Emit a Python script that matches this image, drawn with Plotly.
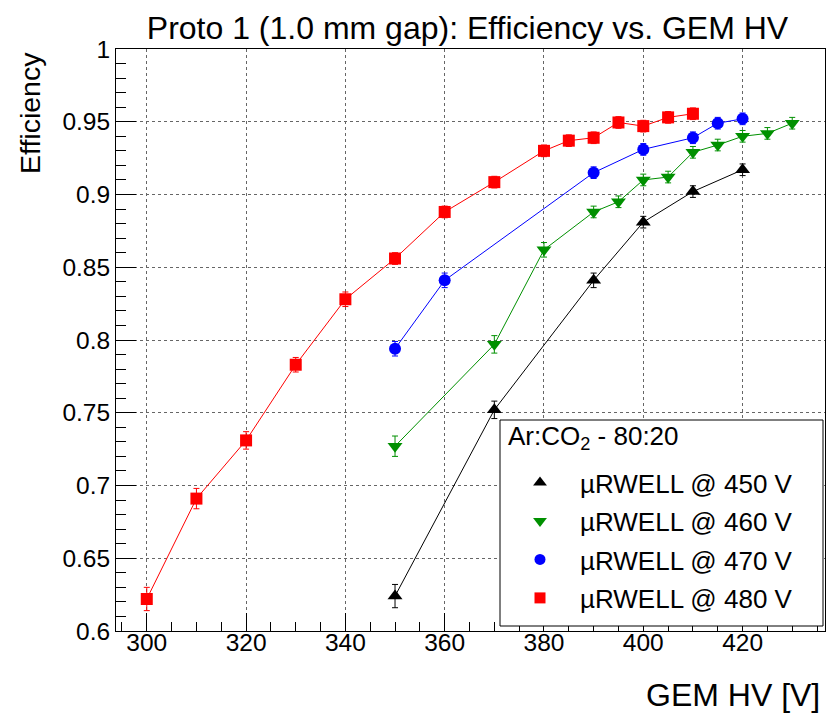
import plotly.graph_objects as go

# ---------------- data ----------------
x450 = [350, 370, 390, 400, 410, 420]
y450 = [0.624, 0.752, 0.841, 0.881, 0.902, 0.917]
e450 = [0.008, 0.006, 0.005, 0.004, 0.004, 0.004]

x460 = [350, 370, 380, 390, 395, 400, 405, 410, 415, 420, 425, 430]
y460 = [0.727, 0.797, 0.862, 0.888, 0.895, 0.910, 0.912, 0.929, 0.934, 0.940, 0.942, 0.949]
e460 = [0.007, 0.006, 0.005, 0.004, 0.004, 0.004, 0.004, 0.004, 0.004, 0.004, 0.004, 0.004]

x470 = [350, 360, 390, 400, 410, 415, 420]
y470 = [0.794, 0.841, 0.915, 0.931, 0.939, 0.949, 0.952]
e470 = [0.005, 0.005, 0.004, 0.004, 0.004, 0.004, 0.004]

x480 = [300, 310, 320, 330, 340, 350, 360, 370, 380, 385, 390, 395, 400, 405, 410]
y480 = [0.622, 0.691, 0.731, 0.783, 0.828, 0.856, 0.888, 0.9085, 0.930, 0.937, 0.939, 0.9495, 0.947, 0.953, 0.9555]
e480 = [0.008, 0.007, 0.006, 0.005, 0.005, 0.004, 0.004, 0.004, 0.004, 0.004, 0.004, 0.004, 0.004, 0.004, 0.004]

series_names = ["\u00b5RWELL @ 450 V", "\u00b5RWELL @ 460 V", "\u00b5RWELL @ 470 V", "\u00b5RWELL @ 480 V"]

x_tickvals = [300, 320, 340, 360, 380, 400, 420]
x_ticktext = ["300", "320", "340", "360", "380", "400", "420"]
y_tickvals = [0.6, 0.65, 0.7, 0.75, 0.8, 0.85, 0.9, 0.95, 1.0]
y_ticktext = ["0.6", "0.65", "0.7", "0.75", "0.8", "0.85", "0.9", "0.95", "1"]

title_text = "Proto 1 (1.0 mm gap): Efficiency vs. GEM HV"
xtitle_text = "GEM HV [V]"
ytitle_text = "Efficiency"
legend_header = "Ar:CO<sub>2</sub> - 80:20"

# ---------------- styles ----------------
FONT = "Liberation Sans, Arial, Helvetica, sans-serif"
styles = [
    dict(color="#000000", symbol="triangle-up", size=13),
    dict(color="#009000", symbol="triangle-down", size=13),
    dict(color="#0000ff", symbol="circle", size=12),
    dict(color="#ff0000", symbol="square", size=12),
]
datasets = [(x450, y450, e450), (x460, y460, e460), (x470, y470, e470), (x480, y480, e480)]

fig = go.Figure()
for (xs, ys, es), st in zip(datasets, styles):
    fig.add_trace(go.Scatter(
        x=xs, y=ys, mode="lines+markers", showlegend=False,
        line=dict(color=st["color"], width=1),
        marker=dict(color=st["color"], symbol=st["symbol"], size=st["size"], line=dict(width=0)),
        error_y=dict(type="data", array=es, color=st["color"], thickness=1, width=3),
        cliponaxis=False,
    ))

for i, (name, st) in enumerate(zip(series_names, styles)):
    fig.add_trace(go.Scatter(
        x=[None], y=[None], mode="markers", name=name, legendgroup="g%d" % i,
        marker=dict(color=st["color"], symbol=st["symbol"], size=st["size"] - 1, line=dict(width=0)),
    ))

L, R, T, B = 116, 5, 49, 85
W, H = 830, 716
pw, ph = W - L - R, H - T - B

def px_x(p):
    return (p - L) / pw

def px_y(p):
    return (H - B - p) / ph

axis_common = dict(
    showline=True, linecolor="black", linewidth=1, mirror=True,
    ticks="inside", tickcolor="black", tickwidth=1,
    showgrid=True, gridcolor="#666666", griddash="dot", gridwidth=1,
    zeroline=False, tickfont=dict(family=FONT, size=24.5, color="black"),
)

fig.update_layout(
    width=W, height=H,
    margin=dict(l=L, r=R, t=T, b=B),
    paper_bgcolor="white", plot_bgcolor="white",
    font=dict(family=FONT, color="black"),
    xaxis=dict(range=[293.8, 436.6], tickmode="array", tickvals=x_tickvals, ticktext=x_ticktext,
               ticklen=18, ticklabelstandoff=-10,
               minor=dict(tick0=300, dtick=5, ticks="inside", ticklen=9, tickcolor="black", showgrid=False),
               **axis_common),
    yaxis=dict(range=[0.6, 1.0], tickmode="array", tickvals=y_tickvals, ticktext=y_ticktext,
               ticklen=20,
               minor=dict(tick0=0.6, dtick=0.01, ticks="inside", ticklen=10, tickcolor="black", showgrid=False),
               **axis_common),
    title=dict(text=title_text, font=dict(family=FONT, size=32, color="black"),
               xref="container", x=467.5 / W, xanchor="center",
               yref="container", y=1 - 27.3 / H, yanchor="middle"),
    showlegend=True,
    legend=dict(
        x=px_x(500), xanchor="left", y=px_y(459), yanchor="top",
        bgcolor="rgba(0,0,0,0)", borderwidth=0,
        font=dict(family=FONT, size=26, color="black"),
        itemwidth=70, tracegroupgap=1.7,
    ),
    shapes=[dict(type="rect", xref="paper", yref="paper",
                 x0=px_x(500), x1=px_x(823), y0=px_y(626), y1=px_y(420),
                 line=dict(color="black", width=1), fillcolor="white", layer="above")],
    annotations=[
        dict(text=legend_header, xref="paper", yref="paper", x=px_x(506), y=px_y(437),
             xanchor="left", yanchor="middle", showarrow=False,
             font=dict(family=FONT, size=26, color="black")),
        dict(text=xtitle_text, xref="paper", yref="paper", x=px_x(822), y=px_y(695),
             xanchor="right", yanchor="middle", showarrow=False,
             font=dict(family=FONT, size=32, color="black")),
        dict(text=ytitle_text, xref="paper", yref="paper", x=px_x(30), y=px_y(50),
             xanchor="center", yanchor="top", showarrow=False, textangle=-90,
             font=dict(family=FONT, size=28.5, color="black")),
    ],
)

fig.write_html("out.html")
